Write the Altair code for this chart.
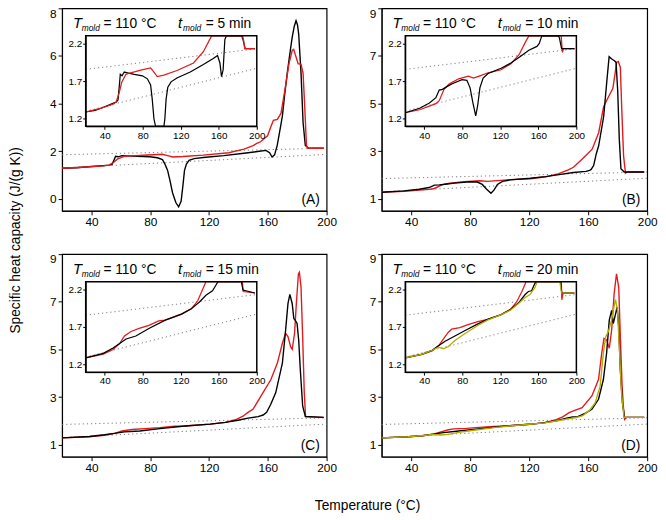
import altair as alt
import pandas as pd

FONT = "Liberation Sans"

# ---------------- data ----------------
A_black_T = [20, 30, 40, 48, 52, 54, 55.4, 56.4, 58.2, 60.6, 64, 71, 79.7, 84.9, 88.3, 90, 91.8, 93.5, 95.2, 97.4,
             99.3, 101, 102.3, 103.3, 104.6, 106.4, 109.8, 116, 130, 143.8, 154.2, 158.7, 161.2, 162.9, 164.6, 166.4,
             168, 169.9, 171.5, 173.2, 175, 176.6, 178, 179.2, 180.2, 181, 182.6, 184, 185.5, 187.8, 198]
A_black_cp = [1.29, 1.31, 1.36, 1.40, 1.42, 1.45, 1.64, 1.79, 1.77, 1.82, 1.81, 1.79, 1.77, 1.73, 1.65, 1.46, 1.2, 0.75,
              0.25, -0.15, -0.33, -0.1, 0.6, 1.2, 1.46, 1.62, 1.69, 1.74, 1.82, 1.92, 2.0, 2.04, 1.94, 1.76, 1.85, 2.25,
              2.8, 3.48, 4.4, 5.27, 6.1, 6.79, 7.25, 7.48, 7.3, 6.92, 5.27, 3.2, 2.25, 2.13, 2.13]
A_red_T = [20, 36.3, 48, 51.9, 55.4, 57.8, 62.3, 67.5, 77.9, 88.3, 91.8, 95.3, 102.2, 116.1, 133.4, 143.8, 150, 152.5,
           155, 159.8, 162.2, 163.8, 166.5, 169, 172, 174.4, 176.6, 177.6, 179.2, 180.6, 182.6, 184, 185.1, 186.3,
           187.2, 198]
A_red_cp = [1.29, 1.34, 1.39, 1.42, 1.55, 1.68, 1.79, 1.81, 1.845, 1.875, 1.82, 1.76, 1.78, 1.84, 1.94, 2.09, 2.24,
            2.33, 2.4, 2.65, 3.05, 3.3, 3.34, 3.6, 4.72, 5.68, 6.23, 6.28, 5.96, 5.68, 5.65, 5.27, 3.89, 2.23, 2.13, 2.13]

B_black_T = [20, 35.1, 45.4, 52.2, 55.7, 59.1, 64.2, 69.4, 79.7, 84.8, 88.2, 91, 94.1, 96.1, 98.5, 101.9, 107.1, 120.8,
             131.1, 141.4, 150, 158.5, 161, 162, 163.7, 165.5, 167.1, 170.5, 172.7, 174.2, 176, 177.8, 178.9, 180,
             181.1, 182.2, 184.4, 198]
B_black_cp = [1.28, 1.34, 1.41, 1.48, 1.58, 1.59, 1.63, 1.665, 1.72, 1.71, 1.61, 1.42, 1.24, 1.37, 1.61, 1.74, 1.80,
              1.87, 1.94, 2.03, 2.11, 2.16, 2.2, 2.24, 2.4, 2.9, 3.23, 4.46, 5.98, 6.97, 6.87, 6.80, 6.73, 5.56, 3.5,
              2.27, 2.13, 2.13]
B_red_T = [20, 35.1, 52.2, 55.7, 60.8, 66, 76.2, 86.5, 91.7, 98.5, 107.1, 120.8, 131.1, 139.7, 146.5, 150, 156, 162.7,
           167.1, 170.5, 173.8, 176.7, 178.2, 179.3, 180.4, 181.8, 182.7, 184, 185.3, 186.5, 198]
B_red_cp = [1.28, 1.32, 1.40, 1.44, 1.59, 1.66, 1.73, 1.765, 1.74, 1.77, 1.81, 1.85, 1.93, 2.05, 2.22, 2.33, 2.68, 3.09,
            3.78, 4.88, 5.29, 5.63, 6.25, 6.73, 6.77, 6.53, 4.88, 2.81, 2.08, 2.13, 2.13]

C_black_T = [20, 38.5, 48.8, 55.7, 62.5, 72.8, 86.5, 103.7, 120.8, 131.1, 139.7, 146.5, 153.4, 156.8, 159.2, 162,
             165.4, 169.9, 172.1, 173.7, 175, 176.6, 177.7, 178.9, 179.9, 181, 182.1, 183.7, 185.5, 198]
C_black_cp = [1.29, 1.35, 1.42, 1.48, 1.54, 1.58, 1.68, 1.79, 1.87, 1.94, 2.03, 2.12, 2.18, 2.25, 2.36, 2.7, 3.19, 4.43,
              5.81, 6.92, 7.31, 6.92, 6.30, 6.2, 6.09, 5.40, 4.16, 2.63, 2.19, 2.15]
C_red_T = [20, 38.5, 48.8, 55.7, 60.8, 67.7, 76.2, 86.5, 96.8, 103.7, 120.8, 131.1, 138, 143.1, 146.5, 150, 155.4,
           162.1, 166.5, 169.9, 172.1, 173.7, 175.5, 176.6, 178.2, 179.4, 180.8, 181.5, 182.6, 183.7, 184.8, 185.7, 198]
C_red_cp = [1.29, 1.34, 1.40, 1.48, 1.58, 1.64, 1.68, 1.72, 1.78, 1.79, 1.87, 1.94, 2.05, 2.20, 2.36, 2.5, 3.05, 3.74,
            4.43, 5.26, 5.68, 5.54, 5.12, 5.01, 5.68, 6.92, 8.17, 8.24, 7.61, 5.54, 3.19, 2.17, 2.15]

D_black_T = [20, 37.9, 48.2, 55, 61.9, 72.2, 82.5, 96.3, 106.6, 120.3, 130.6, 139.2, 146.1, 149.5, 152.9, 156.4, 158.8,
             162.5, 167, 170.3, 172.5, 174.3, 175.9, 177, 178.1, 179.6, 180.7, 181.8, 183.2, 184.7, 198]
D_black_cp = [1.29, 1.34, 1.39, 1.45, 1.51, 1.58, 1.65, 1.74, 1.80, 1.86, 1.93, 2.02, 2.13, 2.17, 2.18, 2.28, 2.35,
              2.49, 2.91, 3.74, 4.85, 6.23, 6.64, 6.09, 6.37, 6.78, 5.95, 4.15, 2.77, 2.15, 2.15]
D_red_T = [20, 37.9, 48.2, 55, 60.2, 65.3, 68.8, 77.4, 86, 96.3, 106.6, 120.3, 130.6, 137.5, 142.7, 147.1, 150, 155.9,
           162.5, 167, 169.2, 170.7, 172.5, 174.3, 175.9, 177.6, 179.2, 180.7, 181.8, 183, 184.2, 184.7, 186, 198]
D_red_cp = [1.29, 1.335, 1.38, 1.45, 1.54, 1.63, 1.67, 1.69, 1.73, 1.77, 1.80, 1.86, 1.93, 2.04, 2.17, 2.35, 2.42, 2.56,
            3.05, 3.74, 4.85, 5.47, 5.40, 5.05, 5.81, 7.34, 8.17, 7.61, 5.54, 3.46, 2.3, 2.06, 2.15, 2.15]
D_olive_T = [20, 37.9, 48.2, 55, 60.2, 65.3, 72.2, 82.5, 96.3, 106.6, 120.3, 130.6, 139.2, 146.1, 151.2, 156.4, 158.8,
             161, 164.8, 168.1, 170.3, 171.9, 173.6, 175.9, 177, 178.5, 179.9, 181.3, 182.6, 184.3, 198]
D_olive_cp = [1.29, 1.34, 1.39, 1.43, 1.41, 1.44, 1.52, 1.61, 1.72, 1.79, 1.86, 1.92, 2.01, 2.09, 2.13, 2.22, 2.35,
              2.45, 2.77, 3.46, 4.85, 5.54, 5.74, 6.23, 6.64, 7.09, 6.64, 4.85, 3.19, 2.15, 2.15]

# dotted reference lines (liquid / solid heat capacity)
baseline_T = [20, 200]
liquid_cp = [1.855, 2.13]
solid_cp = [1.30, 1.87]

x_ticks = [40, 80, 120, 160, 200]
t_domain = [20, 200]
inset_y_ticks = [1.2, 1.7, 2.2]
inset_cp_domain = [1.1, 2.3]
panel_ids = ["A", "B", "C", "D"]
panel_minutes = ["5", "10", "15", "20"]
panel_y_domains = [[-0.5, 8], [0.5, 9], [0.5, 9], [0.5, 9]]
panel_y_ticks = [[0, 2, 4, 6, 8], [1, 3, 5, 7, 9], [1, 3, 5, 7, 9], [1, 3, 5, 7, 9]]
mold_temp = "110 °C"

COLORS = {"red": "#e3191c", "black": "#000000", "olive": "#b3ac00"}

series_by_panel = {
    "A": [("black", A_black_T, A_black_cp), ("red", A_red_T, A_red_cp)],
    "B": [("red", B_red_T, B_red_cp), ("black", B_black_T, B_black_cp)],
    "C": [("red", C_red_T, C_red_cp), ("black", C_black_T, C_black_cp)],
    "D": [("red", D_red_T, D_red_cp), ("black", D_black_T, D_black_cp), ("olive", D_olive_T, D_olive_cp)],
}

H = 206
IN_L, IN_R, IN_T, IN_B = 24, 198, 28, 120


def df_of(T, cp):
    return pd.DataFrame({"T": T, "cp": cp})


def text_layer(s, x, y, size, italic=False, align="left"):
    return alt.Chart(pd.DataFrame({"s": [s]})).mark_text(
        align=align, baseline="alphabetic", fontSize=size, font=FONT,
        fontStyle="italic" if italic else "normal", color="black"
    ).encode(x=alt.value(x), y=alt.value(y), text="s:N")


def panel(i, width):
    pid = panel_ids[i]
    ydom = panel_y_domains[i]

    mx_axis = alt.Axis(values=x_ticks, title=None, grid=False, tickSize=4, labelFontSize=12, labelFont=FONT,
                       labelFlush=False, labelPadding=2, tickColor="black", domainColor="black",
                       labelColor="black")
    my_axis = alt.Axis(values=panel_y_ticks[i], title=None, grid=False, tickSize=4, labelFontSize=12,
                       labelFont=FONT, labelFlush=True, labelPadding=2, tickColor="black",
                       domainColor="black", labelColor="black")
    ix_axis = alt.Axis(values=x_ticks, title=None, grid=False, orient="bottom", offset=-(H - IN_B), tickSize=3,
                       labelFontSize=10, labelFont=FONT, labelFlush=False, labelPadding=1, zindex=1,
                       tickColor="black", domainColor="black", labelColor="black")
    iy_axis = alt.Axis(values=inset_y_ticks, format=".1f", title=None, grid=False, orient="left", offset=-IN_L,
                       tickSize=3, labelFontSize=10, labelFont=FONT, labelPadding=1, zindex=1,
                       tickColor="black", domainColor="black", labelColor="black")

    def MX(field="T", axis=None):
        return alt.X(f"{field}:Q", scale=alt.Scale(domain=t_domain, nice=False, zero=False), axis=axis)

    def MY(field="cp", axis=None):
        return alt.Y(f"{field}:Q", scale=alt.Scale(domain=ydom, nice=False, zero=False), axis=axis)

    def IX(field="T", axis=None):
        return alt.X(f"{field}:Q", scale=alt.Scale(domain=t_domain, range=[IN_L, IN_R], nice=False,
                                                   zero=False, clamp=True), axis=axis)

    def IY(field="cp", axis=None):
        return alt.Y(f"{field}:Q", scale=alt.Scale(domain=inset_cp_domain, range=[IN_B, IN_T], nice=False,
                                                   zero=False, clamp=True), axis=axis)

    dots = dict(strokeDash=[1.2, 3], color="#7a7a7a", strokeWidth=1)
    layers = []
    # main panel
    layers.append(alt.Chart(df_of(baseline_T, liquid_cp)).mark_line(**dots).encode(x=MX(axis=mx_axis),
                                                                                     y=MY(axis=my_axis)))
    layers.append(alt.Chart(df_of(baseline_T, solid_cp)).mark_line(**dots).encode(x=MX(), y=MY()))
    for color, T, cp in series_by_panel[pid]:
        layers.append(alt.Chart(df_of(T, cp)).mark_line(color=COLORS[color], strokeWidth=1.4, clip=True)
                      .encode(x=MX(), y=MY()))
    # annotation
    m = panel_minutes[i]
    layers.append(text_layer("T", 11, 20, 15, italic=True))
    layers.append(text_layer("mold", 20, 23, 8.5, italic=True))
    layers.append(text_layer("= " + mold_temp, 42, 20, 14))
    layers.append(text_layer("t", 118, 20, 15, italic=True))
    layers.append(text_layer("mold", 123, 23, 8.5, italic=True))
    layers.append(text_layer(("=  " if len(m) == 1 else "= ") + m + " min", 146, 20, 14))
    layers.append(text_layer("(" + pid + ")", width - 7, 199, 14, align="right"))
    # inset
    box = pd.DataFrame({"x0": [t_domain[0]], "x1": [t_domain[1]],
                        "y0": [inset_cp_domain[0]], "y1": [inset_cp_domain[1]]})
    layers.append(alt.Chart(box).mark_rect(fill="white").encode(
        x=IX("x0", ix_axis), x2="x1:Q", y=IY("y0", iy_axis), y2="y1:Q"))
    layers.append(alt.Chart(df_of(baseline_T, liquid_cp)).mark_line(**dots).encode(x=IX(), y=IY()))
    layers.append(alt.Chart(df_of(baseline_T, solid_cp)).mark_line(**dots).encode(x=IX(), y=IY()))
    for color, T, cp in series_by_panel[pid]:
        layers.append(alt.Chart(df_of(T, cp)).mark_line(color=COLORS[color], strokeWidth=1.25)
                      .encode(x=IX(), y=IY()))
    layers.append(alt.Chart(box).mark_rect(fillOpacity=0, stroke="black", strokeWidth=1.5).encode(
        x=IX("x0"), x2="x1:Q", y=IY("y0"), y2="y1:Q"))

    return alt.layer(*layers).resolve_scale(x="independent", y="independent").properties(width=width, height=H)


grid = alt.concat(panel(0, 269), panel(1, 270), panel(2, 269), panel(3, 270), columns=2,
                  spacing={"row": 44, "column": 56}, bounds="flush").properties(
    title=alt.TitleParams("Specific heat capacity (J/(g K))", orient="left", anchor="middle", fontSize=14,
                          font=FONT, fontWeight="normal", offset=27, color="black"))
chart = alt.vconcat(grid).properties(
    title=alt.TitleParams("Temperature (°C)", orient="bottom", anchor="middle", fontSize=14, font=FONT,
                          fontWeight="normal", offset=26, dx=35, color="black"),
    padding={"left": 0, "top": -6, "right": 0, "bottom": 0},
).configure_view(stroke="black", strokeWidth=1.2)

chart.save("out.html", embed_options={"renderer": "svg", "actions": False})
